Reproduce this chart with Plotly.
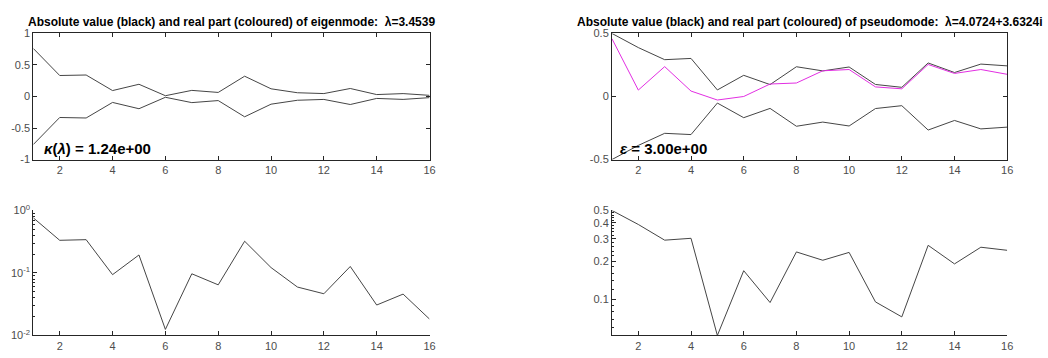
import numpy as np
import plotly.graph_objects as go

# ---- data ----
idx = list(range(1, 17))
eig_abs = [0.762, 0.333, 0.341, 0.094, 0.194, 0.0125, 0.097, 0.0646, 0.322,
           0.122, 0.0595, 0.0465, 0.127, 0.0307, 0.0459, 0.0183]
pse_abs = [0.50, 0.388, 0.292, 0.302, 0.052, 0.168, 0.0944, 0.236, 0.203,
           0.234, 0.0955, 0.0728, 0.266, 0.190, 0.257, 0.243]
pse_real = [0.458, 0.051, 0.237, 0.043, -0.028, 0.0, 0.099, 0.107, 0.204,
            0.214, 0.076, 0.061, 0.254, 0.183, 0.214, 0.176]
x_ticks = [2, 4, 6, 8, 10, 12, 14, 16]
title_left = "Absolute value (black) and real part (coloured) of eigenmode:  λ=3.4539"
title_right = "Absolute value (black) and real part (coloured) of pseudomode:  λ=4.0724+3.6324i"
note_left = "<i>κ</i>(<i>λ</i>) = 1.24e+00"
note_right = "<i>ε</i> = 3.00e+00"

W, H = 1048, 358
FONT = "Liberation Sans, Arial, Helvetica, sans-serif"
LINE = "#454545"
AX = "#262626"
TXT = "#4d4d4d"
MAG = "#e22ee2"

def px_x(p):
    return p / W

def px_y(p):
    return 1 - p / H

fig = go.Figure()

# top-left
fig.add_trace(go.Scatter(x=idx, y=eig_abs, mode="lines", line=dict(color=LINE, width=1),
                         xaxis="x", yaxis="y", showlegend=False))
fig.add_trace(go.Scatter(x=idx, y=[-v for v in eig_abs], mode="lines", line=dict(color=LINE, width=1),
                         xaxis="x", yaxis="y", showlegend=False))
# top-right
fig.add_trace(go.Scatter(x=idx, y=pse_abs, mode="lines", line=dict(color=LINE, width=1),
                         xaxis="x2", yaxis="y2", showlegend=False))
fig.add_trace(go.Scatter(x=idx, y=[-v for v in pse_abs], mode="lines", line=dict(color=LINE, width=1),
                         xaxis="x2", yaxis="y2", showlegend=False))
fig.add_trace(go.Scatter(x=idx, y=pse_real, mode="lines", line=dict(color=MAG, width=1),
                         xaxis="x2", yaxis="y2", showlegend=False))
# bottom-left
fig.add_trace(go.Scatter(x=idx, y=eig_abs, mode="lines", line=dict(color=LINE, width=1),
                         xaxis="x3", yaxis="y3", showlegend=False))
# bottom-right
fig.add_trace(go.Scatter(x=idx, y=pse_abs, mode="lines", line=dict(color=LINE, width=1),
                         xaxis="x4", yaxis="y4", showlegend=False))

xl = [px_x(33.5), px_x(432)]
xr = [px_x(615.5), px_x(1013)]
yt = [px_y(157.7), px_y(26.5)]
yb = [px_y(340.8), px_y(210.7)]

tickfont = dict(family=FONT, size=11, color=TXT)

def xaxis(domain, anchor, box):
    return dict(domain=domain, anchor=anchor, range=[1, 16], tickmode="array", tickvals=x_ticks,
                ticks="inside", ticklen=4, tickcolor=AX, showline=True, linecolor=AX, linewidth=1,
                mirror="ticks" if box else False, showgrid=False, zeroline=False, tickfont=tickfont)

fig.update_layout(
    width=W, height=H, margin=dict(l=0, r=0, t=0, b=0),
    plot_bgcolor="white", paper_bgcolor="white",
    xaxis=xaxis(xl, "y", True),
    yaxis=dict(domain=yt, anchor="x", range=[-1, 1], tickmode="array",
               tickvals=[-1, -0.5, 0, 0.5, 1], ticktext=["-1", "-0.5", "0", "0.5", "1"],
               ticks="inside", ticklen=4, tickcolor=AX, showline=True, linecolor=AX,
               mirror="ticks", showgrid=False, zeroline=False, tickfont=tickfont),
    xaxis2=xaxis(xr, "y2", True),
    yaxis2=dict(domain=yt, anchor="x2", range=[-0.5, 0.5], tickmode="array",
                tickvals=[-0.5, 0, 0.5], ticktext=["-0.5", "0", "0.5"],
                ticks="inside", ticklen=4, tickcolor=AX, showline=True, linecolor=AX,
                mirror="ticks", showgrid=False, zeroline=False, tickfont=tickfont),
    xaxis3=xaxis(xl, "y3", False),
    yaxis3=dict(domain=yb, anchor="x3", type="log", range=[-2, 0], tickmode="array",
                tickvals=[0.01, 0.1, 1], ticktext=["10<sup>-2</sup>", "10<sup>-1</sup>", "10<sup>0</sup>"],
                ticks="inside", ticklen=4, tickcolor=AX, showline=True, linecolor=AX,
                showgrid=False, zeroline=False, tickfont=tickfont,
                minor=dict(ticks="inside", ticklen=2, tickcolor=AX, tickmode="array",
                           tickvals=[0.02, 0.03, 0.04, 0.05, 0.06, 0.07, 0.08, 0.09,
                                     0.2, 0.3, 0.4, 0.5, 0.6, 0.7, 0.8, 0.9])),
    xaxis4=xaxis(xr, "y4", False),
    yaxis4=dict(domain=yb, anchor="x4", type="log",
                range=[np.log10(min(pse_abs)), np.log10(max(pse_abs))], tickmode="array",
                tickvals=[0.1, 0.2, 0.3, 0.4, 0.5], ticktext=["0.1", "0.2", "0.3", "0.4", "0.5"],
                ticks="inside", ticklen=4, tickcolor=AX, showline=True, linecolor=AX,
                showgrid=False, zeroline=False, tickfont=tickfont,
                minor=dict(ticks="inside", ticklen=2, tickcolor=AX, tickmode="array",
                           tickvals=[0.06, 0.07, 0.08, 0.09, 0.12, 0.14, 0.16, 0.18,
                                     0.22, 0.24, 0.26, 0.28, 0.32, 0.34, 0.36, 0.38,
                                     0.42, 0.44, 0.46, 0.48])),
)

titlefont = dict(family=FONT, size=12, color="#000000")
fig.add_annotation(text="<b>" + title_left + "</b>", xref="paper", yref="paper",
                   x=(xl[0] + xl[1]) / 2, y=px_y(15), xanchor="center", yanchor="middle",
                   showarrow=False, font=titlefont)
fig.add_annotation(text="<b>" + title_right + "</b>", xref="paper", yref="paper",
                   x=(xr[0] + xr[1]) / 2, y=px_y(15), xanchor="center", yanchor="middle",
                   showarrow=False, font=titlefont)

notefont = dict(family=FONT, size=15, color="#000000")
fig.add_annotation(text="<b>" + note_left + "</b>", xref="paper", yref="paper",
                   x=px_x(42), y=px_y(146), xanchor="left", yanchor="middle",
                   showarrow=False, font=notefont)
fig.add_annotation(text="<b>" + note_right + "</b>", xref="paper", yref="paper",
                   x=px_x(622), y=px_y(146), xanchor="left", yanchor="middle",
                   showarrow=False, font=notefont)

fig.write_html("out.html")
